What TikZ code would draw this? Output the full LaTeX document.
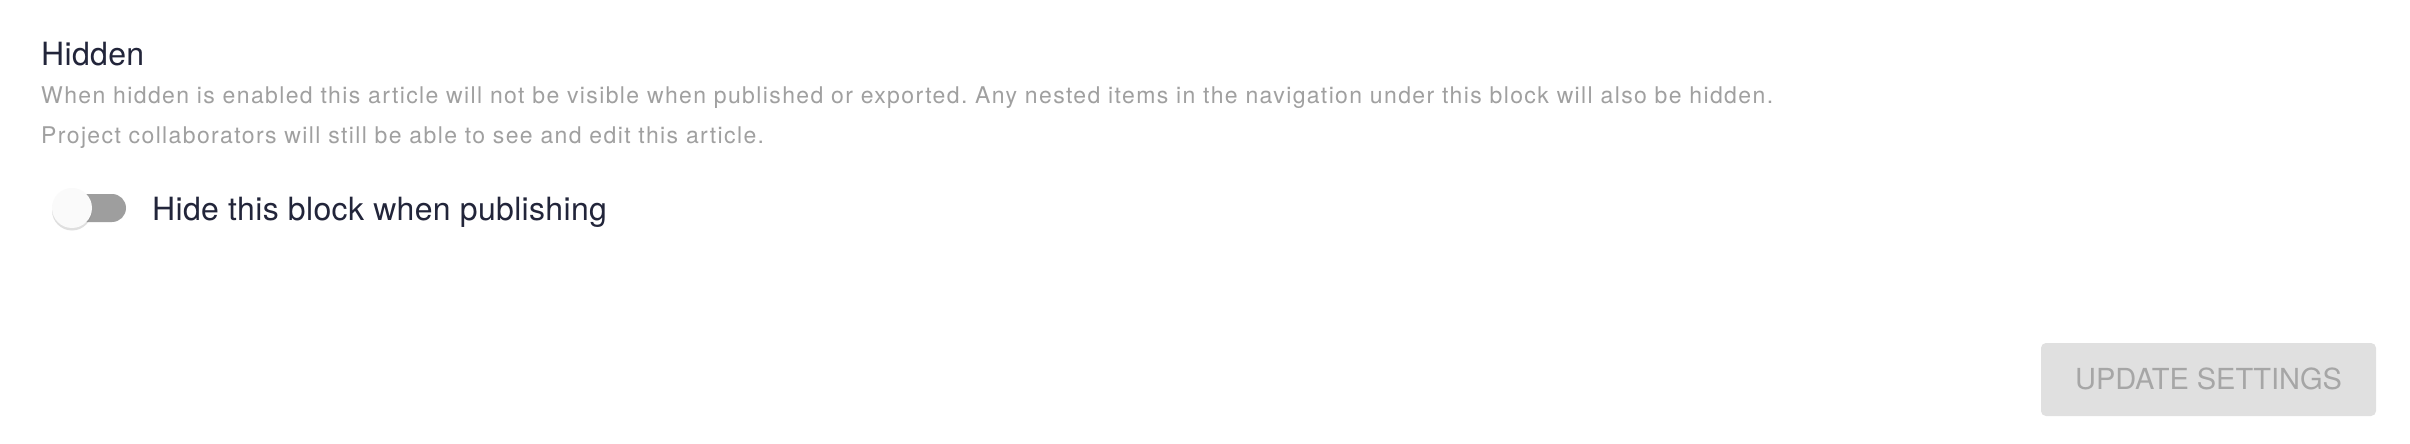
\documentclass[tikz,border=0pt]{standalone}
\usepackage{fontspec}
\setmainfont{TeX Gyre Heros}
\newfontfamily\hintfont[LetterSpace=6]{TeX Gyre Heros}
\newfontfamily\headfont[LetterSpace=1]{TeX Gyre Heros}
\frenchspacing
\usepackage{tikz}
\usetikzlibrary{shadows}
\usetikzlibrary{calc}
\definecolor{inkdark}{HTML}{22253A}
\definecolor{inkgray}{HTML}{A0A0A0}
\definecolor{trackgray}{HTML}{9E9E9E}
\definecolor{btnfill}{HTML}{E0E0E0}
\definecolor{btntext}{HTML}{A6A6A6}
\tikzstyle{heading} = [anchor=base west, inner sep=0pt, text=inkdark, font=\headfont\fontsize{32}{38}\selectfont]
\tikzstyle{hint} = [anchor=base west, inner sep=0pt, text=inkgray, font=\hintfont\fontsize{23}{27}\selectfont]
\tikzstyle{knob} = [circle, fill=white!98!black, minimum size=40pt, inner sep=0pt, drop shadow={shadow xshift=0pt, shadow yshift=-2.5pt, opacity=0.25}]
\tikzstyle{track} = [rounded corners=14pt, fill=trackgray, minimum width=68pt, minimum height=28pt, inner sep=0pt]
\tikzstyle{button} = [rounded corners=5pt, fill=btnfill, text=btntext, minimum width=335pt, minimum height=73pt, inner sep=0pt, font=\fontsize{29}{35}\selectfont]

\begin{document}
\begin{tikzpicture}[x=1pt, y=-1pt]

	\def\lx{41};
	\def\ty{208};

	\useasboundingbox (0,0) rectangle (2410,444);
	\fill[white] (0,0) rectangle (2410,444);

%Label
   \node[heading] (title) at (\lx, 66) {Hidden};
   \node[hint] (desca) at (\lx, 103) {When hidden is enabled this article will not be visible when published or exported. Any nested items in the navigation under this block will also be hidden.};
   \node[hint] (descb) at (\lx, 143) {Project collaborators will still be able to see and edit this article.};

%toggle
   \node[track] (track) at (92, \ty) {};
   \node[knob] (knob) at (72, \ty) {};
   \node[heading] (hidelabel) at (152, 220) {Hide this block when publishing};

%button
   \node[button] (button) at (2208.5, 379.5) {};
   \node[anchor=base, inner sep=0pt, text=btntext, font=\fontsize{29}{35}\selectfont] (btnlabel) at (2208.5, 389) {UPDATE SETTINGS};

\end{tikzpicture}
\end{document}
